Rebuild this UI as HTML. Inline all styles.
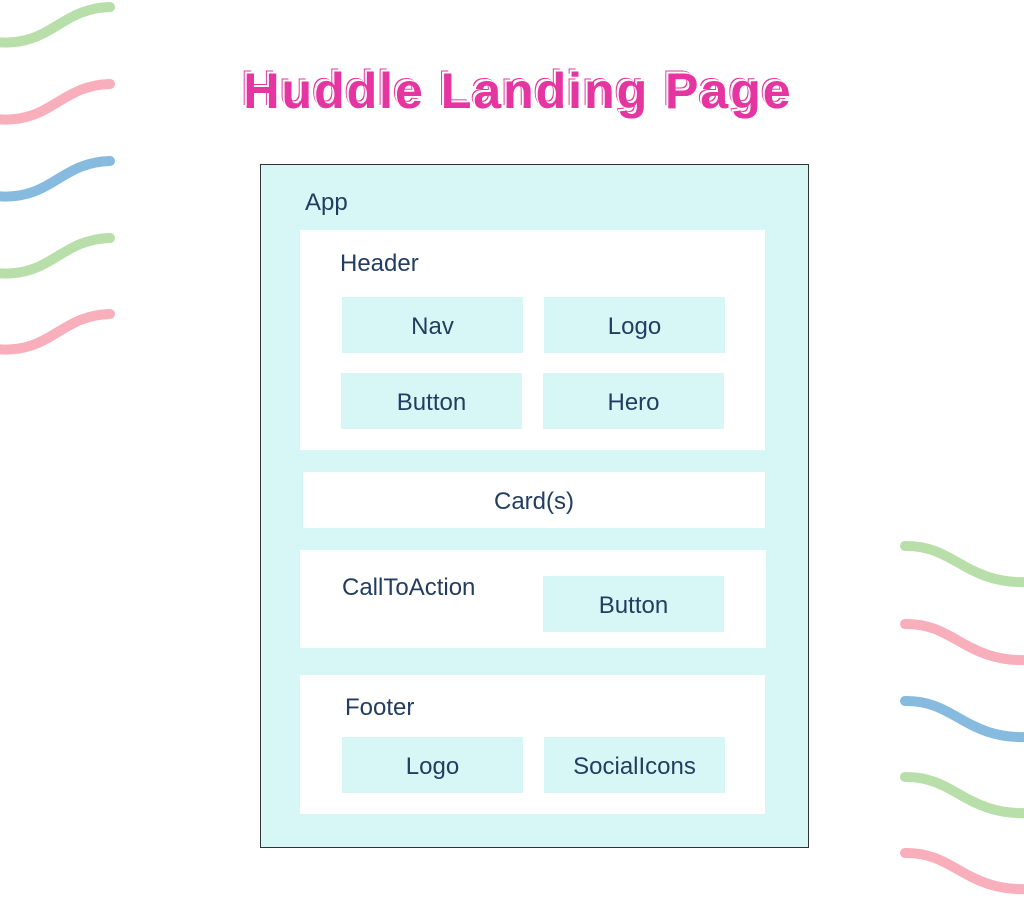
<!DOCTYPE html>
<html><head><style>
body{margin:0;width:1024px;height:900px;background:#fff;position:relative;overflow:hidden;font-family:"Liberation Sans",sans-serif;color:#233d60}
.a{position:absolute;box-sizing:border-box}
.w{background:#fff}
.c{background:#d7f7f7;display:flex;align-items:center;justify-content:center;font-size:24px;padding-top:4px}
.t{position:absolute;font-size:24px}
#title{position:absolute;left:0;width:1036px;top:62px;text-align:center;font-size:50px;font-weight:bold;color:#e535a0;letter-spacing:2px;text-shadow:-2px -2px 0 #fff,0 0 0 #e535a0,-3px -3px 0 #e535a0}
</style></head><body>
<svg class="a" style="left:0;top:0" width="1024" height="900">
<g fill="none" stroke-width="10" stroke-linecap="round">
<path d="M-5,42 C50,48 60,8 110,7" stroke="#b8dfaa"/>
<path d="M-5,119 C50,125 60,85 110,84" stroke="#f9aebb"/>
<path d="M-5,196 C50,202 60,162 110,161" stroke="#86bbdf"/>
<path d="M-5,273 C50,279 60,239 110,238" stroke="#b8dfaa"/>
<path d="M-5,349 C50,355 60,315 110,314" stroke="#f9aebb"/>
<path d="M905,546 C955,545 965,585 1030,582" stroke="#b8dfaa"/>
<path d="M905,624 C955,623 965,663 1030,660" stroke="#f9aebb"/>
<path d="M905,701 C955,700 965,740 1030,737" stroke="#86bbdf"/>
<path d="M905,777 C955,776 965,816 1030,813" stroke="#b8dfaa"/>
<path d="M905,853 C955,852 965,892 1030,889" stroke="#f9aebb"/>
</g></svg>
<div id="title">Huddle Landing Page</div>
<div class="a" style="left:260px;top:164px;width:549px;height:684px;background:#d7f7f7;border:1px solid #333"></div>
<div class="t" style="left:305px;top:189px">App</div>
<div class="a w" style="left:300px;top:230px;width:465px;height:220px"></div>
<div class="t" style="left:340px;top:250px">Header</div>
<div class="a c" style="left:342px;top:297px;width:181px;height:56px">Nav</div>
<div class="a c" style="left:544px;top:297px;width:181px;height:56px">Logo</div>
<div class="a c" style="left:341px;top:373px;width:181px;height:56px">Button</div>
<div class="a c" style="left:543px;top:373px;width:181px;height:56px">Hero</div>
<div class="a w" style="left:303px;top:472px;width:462px;height:56px;display:flex;align-items:center;justify-content:center;font-size:24px;padding-top:4px">Card(s)</div>
<div class="a w" style="left:300px;top:550px;width:466px;height:98px"></div>
<div class="t" style="left:342px;top:574px">CallToAction</div>
<div class="a c" style="left:543px;top:576px;width:181px;height:56px">Button</div>
<div class="a w" style="left:300px;top:675px;width:465px;height:139px"></div>
<div class="t" style="left:345px;top:694px">Footer</div>
<div class="a c" style="left:342px;top:737px;width:181px;height:56px">Logo</div>
<div class="a c" style="left:544px;top:737px;width:181px;height:56px">SocialIcons</div>
</body></html>
